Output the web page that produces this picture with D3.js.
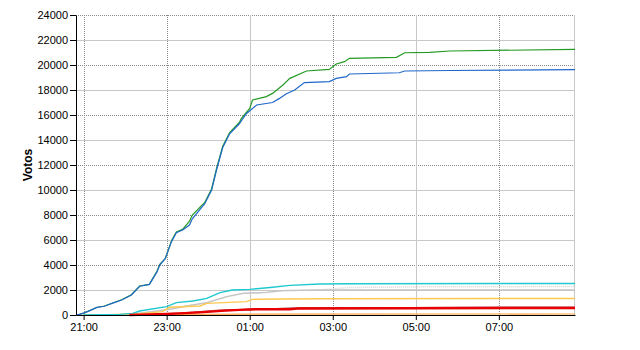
<!DOCTYPE html>
<html>
<head>
<meta charset="utf-8">
<script src="https://cdn.jsdelivr.net/npm/d3@7"></script>
<style>
  body { margin: 0; background: #ffffff; }
  svg { display: block; font-family: "Liberation Sans", Arial, sans-serif; }
</style>
</head>
<body>
<svg id="chart" width="640" height="350"></svg>
<script>
// data: [time, votes]
var yTicks = [0, 2000, 4000, 6000, 8000, 10000, 12000, 14000, 16000, 18000, 20000, 22000, 24000];
var xTicks = ["21:00", "23:00", "01:00", "03:00", "05:00", "07:00"];
var xSolid = ["01:00", "05:00"];

var blueSeries = [
  ["20:49", 0], ["20:54", 50], ["21:00", 150], ["21:09", 350], ["21:19", 610],
  ["21:30", 700], ["21:42", 950], ["21:55", 1200], ["22:09", 1600], ["22:21", 2300],
  ["22:35", 2450], ["22:46", 3450], ["22:50", 4000], ["22:58", 4530], ["23:07", 5870],
  ["23:14", 6590], ["23:23", 6800], ["23:33", 7200], ["23:37", 7700], ["23:55", 8900],
  ["00:05", 10000], ["00:12", 11600], ["00:21", 13400], ["00:31", 14500], ["00:45", 15300],
  ["00:55", 16100], ["01:10", 16800], ["01:33", 17000], ["01:43", 17330], ["01:53", 17700],
  ["02:05", 18000], ["02:19", 18590], ["02:55", 18670], ["03:05", 18930], ["03:20", 19070],
  ["03:24", 19280], ["04:36", 19380], ["04:44", 19520], ["05:49", 19560], ["08:50", 19630]
];
var greenSeries = [
  ["20:49", 0], ["20:54", 50], ["21:00", 150], ["21:09", 360], ["21:19", 600],
  ["21:30", 720], ["21:42", 960], ["21:55", 1220], ["22:09", 1620], ["22:21", 2320],
  ["22:35", 2450], ["22:46", 3500], ["22:50", 4050], ["22:58", 4500], ["23:07", 5950],
  ["23:14", 6650], ["23:23", 6850], ["23:33", 7500], ["23:37", 8000], ["23:55", 9000],
  ["00:05", 10100], ["00:12", 11700], ["00:21", 13500], ["00:31", 14600], ["00:45", 15400],
  ["00:48", 15730], ["01:00", 16530], ["01:04", 17200], ["01:24", 17470], ["01:33", 17730],
  ["01:48", 18400], ["01:58", 18930], ["02:22", 19520], ["02:55", 19650], ["03:05", 20080],
  ["03:17", 20270], ["03:24", 20530], ["04:32", 20610], ["04:44", 20980], ["05:20", 21010],
  ["05:49", 21120], ["08:50", 21250]
];
var cyanSeries = [
  ["21:00", 0], ["21:52", 50], ["22:11", 130], ["22:21", 320], ["23:00", 670],
  ["23:14", 990], ["23:38", 1120], ["23:58", 1330], ["00:17", 1790], ["00:35", 2000],
  ["01:00", 2050], ["01:33", 2220], ["01:58", 2370], ["02:41", 2480], ["03:24", 2500],
  ["08:50", 2520]
];
var greySeries = [
  ["21:00", 0], ["22:00", 50], ["22:21", 150], ["23:04", 450], ["23:29", 720],
  ["23:58", 990], ["00:27", 1470], ["00:50", 1730], ["01:24", 1810], ["01:48", 1950],
  ["02:41", 2000], ["08:50", 2000]
];
var greyDotSeries = [
  ["21:00", 0], ["22:00", 50], ["22:21", 150], ["23:04", 450], ["23:29", 720],
  ["23:58", 990], ["00:27", 1470], ["00:50", 1730], ["01:24", 1810], ["01:48", 1950],
  ["02:41", 2000], ["03:03", 2100], ["03:24", 2200], ["05:05", 2250], ["08:50", 2280]
];
var orangeSeries = [
  ["21:00", 0], ["21:38", 30], ["22:21", 100], ["22:54", 270], ["23:04", 620],
  ["23:48", 720], ["23:58", 930], ["00:55", 1070], ["01:04", 1250], ["02:41", 1300],
  ["08:50", 1320]
];
var purpleSeries = [
  ["22:30", 0], ["00:00", 250], ["01:00", 450], ["02:00", 520], ["06:00", 600],
  ["08:50", 630]
];
var maroonSeries = [
  ["22:20", 0], ["23:20", 150], ["00:17", 380], ["01:14", 470], ["02:12", 560],
  ["08:50", 600]
];
var redSeries = [
  ["22:06", 0], ["22:50", 60], ["23:19", 130], ["23:48", 210], ["00:24", 350],
  ["01:00", 450], ["01:58", 460], ["02:12", 530], ["08:50", 560]
];
var lowSeries = [
  ["21:00", 0], ["23:00", 40], ["01:00", 70], ["08:50", 80]
];

var margin = { top: 15, right: 65, bottom: 35, left: 76 };
var width = 640 - margin.left - margin.right;
var height = 350 - margin.top - margin.bottom;

// times before noon belong to the next day
function parseTime(s) {
  var p = s.split(":");
  var h = +p[0];
  var m = +p[1];
  return new Date(2000, 0, h < 12 ? 2 : 1, h, m);
}

var svg = d3.select("#chart");
var g = svg
  .append("g")
  .attr("transform", "translate(" + margin.left + "," + margin.top + ")");

var x = d3
  .scaleTime()
  .domain([parseTime("20:49"), parseTime("08:50")])
  .range([0, width]);
var y = d3.scaleLinear().domain([0, 24000]).range([height, 0]);

// horizontal grid
g.selectAll(".hgrid")
  .data(yTicks.filter(function (d) { return d > 0; }))
  .enter()
  .append("line")
  .attr("x1", 0)
  .attr("x2", width)
  .attr("y1", function (d) { return Math.round(y(d)) + 0.5; })
  .attr("y2", function (d) { return Math.round(y(d)) + 0.5; })
  .attr("stroke", function (d) { return d % 4000 == 0 ? "#8a8a8a" : "#c8c8c8"; })
  .attr("stroke-dasharray", function (d) { return d % 4000 == 0 ? "1,1" : null; });

// vertical grid
g.selectAll(".vgrid")
  .data(xTicks)
  .enter()
  .append("line")
  .attr("x1", function (d) { return Math.round(x(parseTime(d))) + 0.5; })
  .attr("x2", function (d) { return Math.round(x(parseTime(d))) + 0.5; })
  .attr("y1", 0)
  .attr("y2", height)
  .attr("stroke", function (d) { return xSolid.indexOf(d) >= 0 ? "#c8c8c8" : "#8a8a8a"; })
  .attr("stroke-dasharray", function (d) { return xSolid.indexOf(d) >= 0 ? null : "1,1"; });

// right border
g.append("line")
  .attr("x1", width - 0.5)
  .attr("x2", width - 0.5)
  .attr("y1", 0)
  .attr("y2", height)
  .attr("stroke", "#c8c8c8");

var line = d3
  .line()
  .x(function (d) { return x(parseTime(d[0])); })
  .y(function (d) { return y(d[1]); });

function drawSeries(data, color, w, dash) {
  g.append("path")
    .datum(data)
    .attr("fill", "none")
    .attr("stroke", color)
    .attr("stroke-width", w)
    .attr("stroke-dasharray", dash)
    .attr("d", line);
}

drawSeries(lowSeries, "#ffa040", 1.2, null);
drawSeries(greyDotSeries, "#d4d4d4", 1.5, "1,1");
drawSeries(greySeries, "#c4c4c4", 1.5, null);
drawSeries(orangeSeries, "#ffc850", 1.5, null);
drawSeries(cyanSeries, "#20c8d0", 1.5, null);
drawSeries(purpleSeries, "#d090d8", 1.5, null);
drawSeries(maroonSeries, "#b03838", 1.5, null);
drawSeries(redSeries, "#e80000", 2.5, null);
drawSeries(greenSeries, "#249a24", 1.2, null);
drawSeries(blueSeries, "#1f68c8", 1.2, null);

// axes
var yAxis = g
  .append("g")
  .call(
    d3
      .axisLeft(y)
      .tickValues(yTicks)
      .tickFormat(d3.format("d"))
      .tickSize(6)
      .tickPadding(2)
      .tickSizeOuter(0)
  );
yAxis.select(".domain").attr("stroke", "#000");
yAxis.selectAll("text").style("font-size", "11px").attr("fill", "#000");

var xAxis = g
  .append("g")
  .attr("transform", "translate(0," + height + ")")
  .call(
    d3
      .axisBottom(x)
      .tickValues(xTicks.map(parseTime))
      .tickFormat(d3.timeFormat("%H:%M"))
      .tickSize(5)
      .tickPadding(3)
      .tickSizeOuter(0)
  );
xAxis.selectAll("text").style("font-size", "11px").attr("fill", "#000");

g.append("text")
  .attr("text-anchor", "middle")
  .attr("transform", "rotate(-90)")
  .attr("x", -height / 2)
  .attr("y", -margin.left + 32)
  .attr("font-weight", "bold")
  .attr("font-size", "12px")
  .text("Votos");
</script>
</body>
</html>
